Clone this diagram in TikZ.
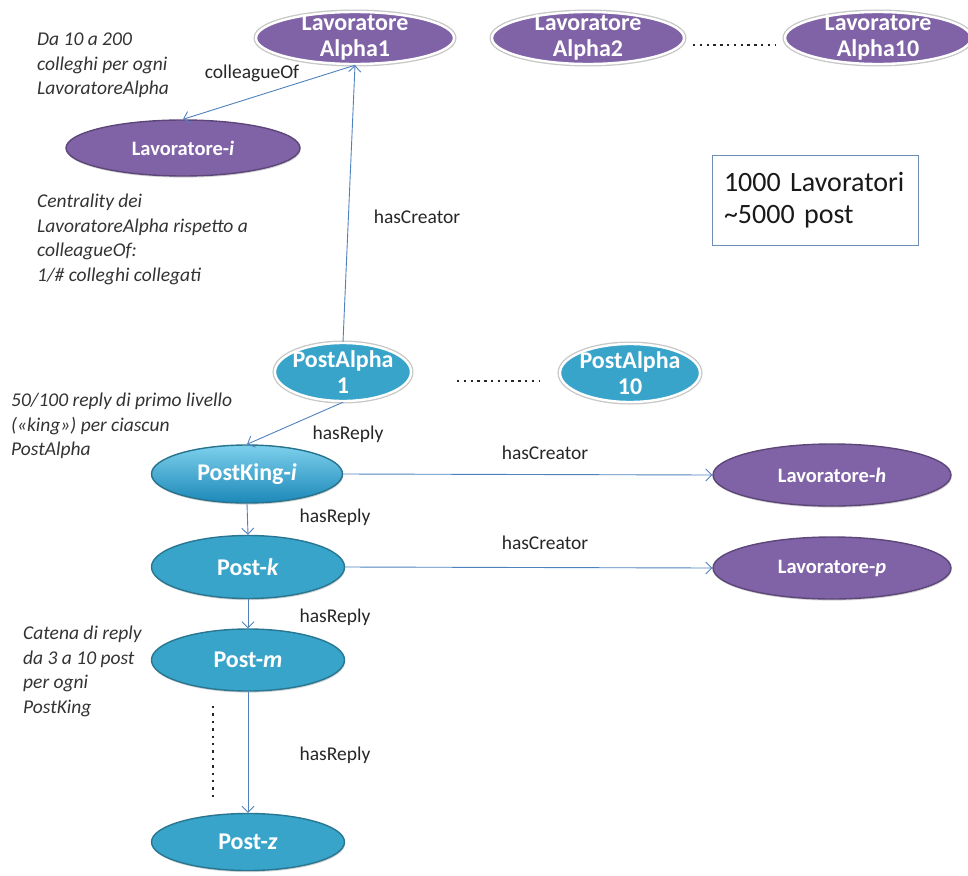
\documentclass[tikz,border=0pt]{standalone}
\usepackage{fontspec}
\setmainfont{Carlito}
\usetikzlibrary{shapes.geometric,arrows.meta,shadows}
\definecolor{lavpurple}{RGB}{128,98,166}
\definecolor{postaqua}{RGB}{56,164,202}
\definecolor{linkblue}{RGB}{79,129,189}
\definecolor{boxedge}{RGB}{110,140,180}

\begin{document}
\begin{tikzpicture}[x=1pt,y=-1pt,
  blob/.style={ellipse, line width=1.4pt, inner sep=-40pt, text=white, align=center,
    drop shadow={shadow xshift=0.6pt, shadow yshift=-1.6pt, opacity=0.25, fill=black!70}},
  worker/.style={blob, fill=lavpurple, draw=lavpurple!72!black},
  post/.style={blob, fill=postaqua, draw=postaqua!72!black},
  ringed/.style={draw=white, line width=2.4pt, preaction={draw=black!22, line width=5pt}},
  twoline/.style={font=\fontsize{24}{26}\selectfont\bfseries},
  oneline/.style={font=\fontsize{20.5}{20}\selectfont\bfseries},
  bigline/.style={font=\fontsize{24}{24}\selectfont\bfseries},
  link/.style={draw=linkblue, line width=0.9pt, -{Straight Barb[length=6pt,width=12pt]}},
  rel/.style={font=\fontsize{19.5}{19}\selectfont, text=black!85, inner sep=0pt},
  note/.style={font=\fontsize{19.5}{24.5}\selectfont\itshape, align=left, anchor=north west, inner sep=0pt, text=black!80},
  dotrow/.style={line width=2.4pt, dash pattern=on 2.4pt off 4.4pt, black!85}
]
\useasboundingbox (0,0) rectangle (968,875);

% workers of the alpha group
\node[worker,ringed,twoline,minimum width=198pt,minimum height=52pt] (a1) at (355,38) {Lavoratore\\Alpha1};
\node[worker,ringed,twoline,minimum width=192pt,minimum height=52pt] (a2) at (588,38) {Lavoratore\\Alpha2};
\node[worker,ringed,twoline,minimum width=186pt,minimum height=52pt] (a10) at (878,38) {Lavoratore\\Alpha10};
\draw[dotrow] (693,45) -- (776,45);

% colleague of an alpha worker
\node[worker,oneline,minimum width=234pt,minimum height=56pt] (li) at (183,148) {Lavoratore-\textit{i}};

% alpha posts
\node[post,ringed,twoline,minimum width=136pt,minimum height=58pt] (pa1) at (343,372) {PostAlpha\\1};
\node[post,ringed,twoline,minimum width=140pt,minimum height=58pt] (pa10) at (630,373) {PostAlpha\\10};
\draw[dotrow] (457,381) -- (540,381);

% reply chain
\node[blob,bigline,minimum width=191pt,minimum height=58pt, draw=postaqua!70!black,
  top color={rgb,255:red,125;green,208;blue,236},
  bottom color={rgb,255:red,28;green,136;blue,184}] (pk) at (247,474) {PostKing-\textit{i}};
\node[post,bigline,minimum width=193pt,minimum height=63pt] (pk2) at (248,567) {Post-\textit{k}};
\node[post,bigline,minimum width=193pt,minimum height=62pt] (pm) at (248,660) {Post-\textit{m}};
\node[post,bigline,minimum width=193pt,minimum height=57pt] (pz) at (248,842) {Post-\textit{z}};
\draw[dotrow, dash pattern=on 2.4pt off 5pt] (213,706) -- (213,802);

% creators of the replies
\node[worker,oneline,minimum width=238pt,minimum height=62pt] (lh) at (832,475) {Lavoratore-\textit{h}};
\node[worker,oneline,minimum width=238pt,minimum height=62pt] (lp) at (832,568) {Lavoratore-\textit{p}};

% relations
\draw[link] (a1.south) -- (li.north);
\node[rel] (lcoll) at (252,73) {colleagueOf};
\draw[link] (pa1.north) -- (a1.south);
\node[rel] (lcre1) at (417,217) {hasCreator};
\draw[link] (pa1.south) -- (pk.north);
\node[rel] (lrep1) at (348,434) {hasReply};
\draw[link] (pk.east) -- (lh.west);
\node[rel] (lcre2) at (545,453) {hasCreator};
\draw[link] (pk.south) -- (pk2.north);
\node[rel] (lrep2) at (335,517) {hasReply};
\draw[link] (pk2.east) -- (lp.west);
\node[rel] (lcre3) at (545,543) {hasCreator};
\draw[link] (pk2.south) -- (pm.north);
\node[rel] (lrep3) at (335,617) {hasReply};
\draw[link] (pm.south) -- (pz.north);
\node[rel] (lrep4) at (335,755) {hasReply};

% annotations
\node[note] (n1) at (37,33) {Da 10 a 200\\colleghi per ogni\\LavoratoreAlpha};
\node[note] (n2) at (37,194) {Centrality dei\\LavoratoreAlpha rispetto a\\colleagueOf:\\1/\# colleghi collegati};
\node[note] (n3) at (11,393) {50/100 reply di primo livello\\(«king») per ciascun\\PostAlpha};
\node[note] (n4) at (23,626) {Catena di reply\\da 3 a 10 post\\per ogni\\PostKing};

% totals
\node[draw=boxedge, line width=0.8pt, minimum width=206pt, minimum height=90pt,
  text width=182pt, align=left, inner xsep=12pt,
  font=\fontsize{28}{32}\selectfont, text=black!90] (tot) at (815,200) {1000 Lavoratori\\\textasciitilde 5000 post};
\end{tikzpicture}
\end{document}
